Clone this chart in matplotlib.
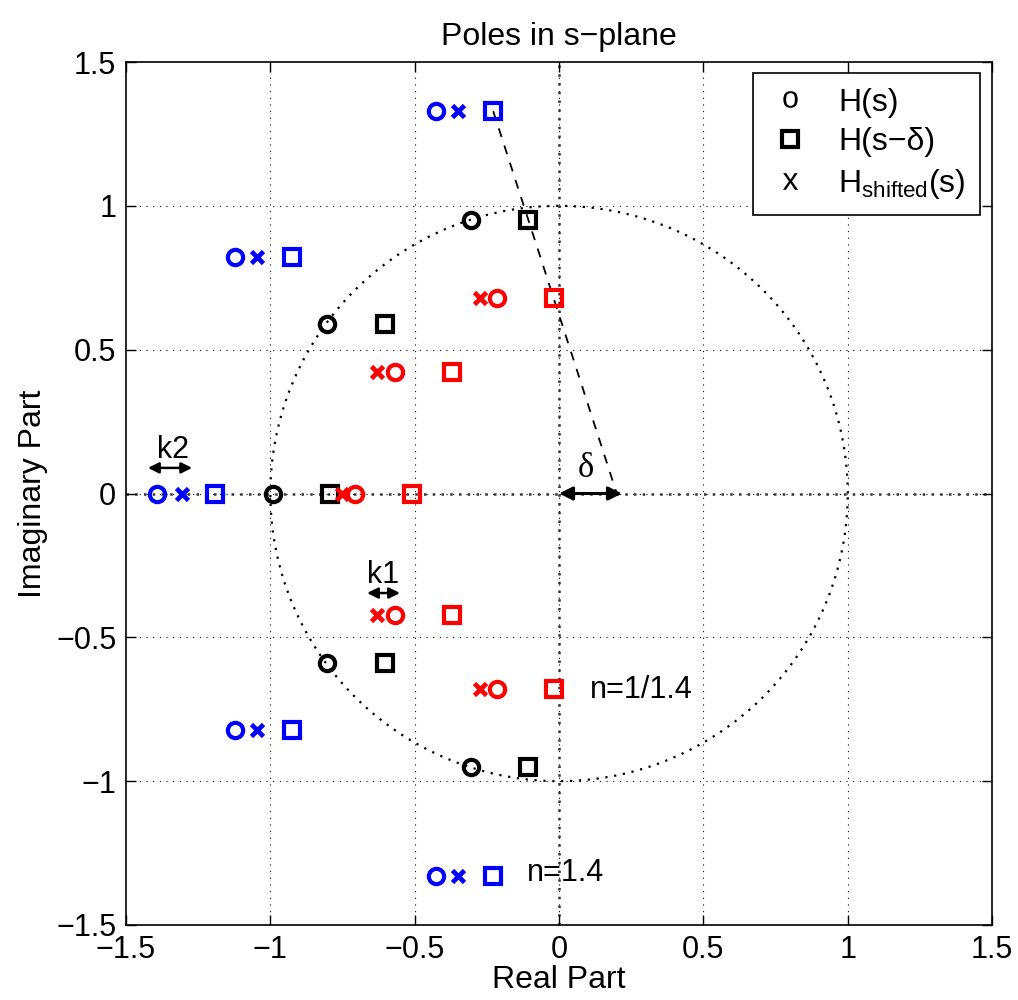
import matplotlib

matplotlib.use("Agg")

import matplotlib.pyplot as plt
import numpy as np
from matplotlib.lines import Line2D

plt.rcParams["font.family"] = ["Liberation Sans", "DejaVu Sans"]
plt.rcParams["mathtext.fontset"] = "custom"
plt.rcParams["mathtext.rm"] = "Liberation Sans"
plt.rcParams["mathtext.it"] = "Liberation Sans"
plt.rcParams["mathtext.sf"] = "Liberation Sans"
plt.rcParams["axes.unicode_minus"] = True

# pole positions
BLACK_IM = [0.951, 0.589, 0.0, -0.589, -0.951]
BLACK_O = [-0.305, -0.804, -0.991, -0.804, -0.305]
BLACK_SQ = [-0.107, -0.603, -0.793, -0.603, -0.107]

RED_IM = [0.680, 0.422, 0.0, -0.422, -0.680]
RED_O = [-0.215, -0.568, -0.707, -0.568, -0.215]
RED_X = [-0.274, -0.630, -0.752, -0.630, -0.274]
RED_SQ = [-0.017, -0.371, -0.509, -0.371, -0.017]

BLUE_IM = [1.329, 0.822, 0.0, -0.822, -1.329]
BLUE_O = [-0.426, -1.122, -1.392, -1.122, -0.426]
BLUE_X = [-0.350, -1.046, -1.306, -1.046, -0.350]
BLUE_SQ = [-0.228, -0.925, -1.191, -0.925, -0.228]

DELTA = 0.2
DASH_LINE_X = [-0.228, 0.2]
DASH_LINE_Y = [1.329, 0.0]
TICKS = [-1.5, -1, -0.5, 0, 0.5, 1, 1.5]
TICK_LABELS = ["\u22121.5", "\u22121", "\u22120.5", "0", "0.5", "1", "1.5"]

FS = 22
LABEL_FS = 23
MS = 11
MEW = 3

fig = plt.figure(figsize=(10.18, 10.0), dpi=100)
ax = fig.add_axes([0.1238, 0.075, 0.8507, 0.863])

# grid and reference lines
for t in TICKS[1:-1]:
    ax.axvline(t, color="black", ls=(0, (1, 5)), lw=0.8, zorder=0)
    ax.axhline(t, color="black", ls=(0, (1, 5)), lw=0.8, zorder=0)
ax.axvline(0, color="#333333", ls=(0, (1, 2.5)), lw=1.8, zorder=0.5)
ax.axhline(0, color="#333333", ls=(0, (1, 2.5)), lw=1.8, zorder=0.5)

theta = np.linspace(0, 2 * np.pi, 400)
ax.plot(np.cos(theta), np.sin(theta), color="black", ls=(0, (1, 3)), lw=1.6, zorder=0.6)

ax.plot(DASH_LINE_X, DASH_LINE_Y, color="black", ls=(0, (5, 5)), lw=1.3, zorder=1)

style = dict(ls="none", ms=MS, mew=MEW, mfc="none", zorder=3)
xstyle = dict(ls="none", ms=9, mew=3.4, zorder=3)
ax.plot(BLACK_O, BLACK_IM, marker="o", color="black", **style)
ax.plot(BLACK_SQ, BLACK_IM, marker="s", color="black", **style)
ax.plot(RED_O, RED_IM, marker="o", color="red", **style)
ax.plot(RED_X, RED_IM, marker="x", color="red", **xstyle)
ax.plot(RED_SQ, RED_IM, marker="s", color="red", **style)
ax.plot(BLUE_O, BLUE_IM, marker="o", color="blue", **style)
ax.plot(BLUE_X, BLUE_IM, marker="x", color="blue", **xstyle)
ax.plot(BLUE_SQ, BLUE_IM, marker="s", color="blue", **style)

# arrows and annotations
arrow = dict(arrowstyle="<|-|>", color="black", lw=2.2, mutation_scale=20, shrinkA=0, shrinkB=0)
ax.annotate("", xy=(DELTA + 0.018, 0), xytext=(0, 0), arrowprops=arrow, zorder=4)
ax.text(0.094, 0.03, "\u03b4", fontsize=FS + 3, family="Liberation Serif", ha="center", va="bottom")

arrow_small = dict(arrowstyle="<|-|>", color="black", lw=1.8, mutation_scale=16, shrinkA=0, shrinkB=0)
ax.annotate("", xy=(-1.271, 0.089), xytext=(-1.424, 0.089), arrowprops=arrow_small)
ax.text(-1.337, 0.1, "k2", fontsize=FS, ha="center", va="bottom")
ax.annotate("", xy=(-0.551, -0.346), xytext=(-0.665, -0.346), arrowprops=arrow_small)
ax.text(-0.608, -0.335, "k1", fontsize=FS, ha="center", va="bottom")

ax.text(0.107, -0.684, "n=1/1.4", fontsize=FS, ha="left", va="center")
ax.text(-0.11, -1.32, "n=1.4", fontsize=FS, ha="left", va="center")

ax.set_xlim(-1.5, 1.5)
ax.set_ylim(-1.5, 1.5)
ax.set_xticks(TICKS)
ax.set_yticks(TICKS)
ax.set_xticklabels(TICK_LABELS)
ax.set_yticklabels(TICK_LABELS)
ax.tick_params(direction="in", top=True, right=True, length=7, width=1, labelsize=FS, pad=7)
for spine in ax.spines.values():
    spine.set_linewidth(1.2)

ax.set_title("Poles in s\u2212plane", fontsize=LABEL_FS, pad=12)
ax.set_xlabel("Real Part", fontsize=LABEL_FS, labelpad=0)
ax.set_ylabel("Imaginary Part", fontsize=LABEL_FS, labelpad=6)

handles = [
    Line2D([], [], ls="none", marker="$\\mathsf{o}$", color="black", ms=12, mew=0),
    Line2D([], [], ls="none", marker="s", color="black", mfc="none", ms=11, mew=3),
    Line2D([], [], ls="none", marker="$\\mathsf{x}$", color="black", ms=12, mew=0),
]
labels = ["H(s)", "H(s\u2212\u03b4)", "H$_{\\mathsf{shifted}}$(s)"]
leg = ax.legend(
    handles,
    labels,
    loc="upper right",
    bbox_to_anchor=(0.986, 0.987),
    borderaxespad=0,
    fontsize=LABEL_FS,
    frameon=True,
    fancybox=False,
    edgecolor="black",
    framealpha=1,
    borderpad=0.45,
    handletextpad=0.8,
    labelspacing=0.3,
    handlelength=1.4,
)
leg.get_frame().set_linewidth(1.2)

fig.savefig("out.png", dpi=100)
